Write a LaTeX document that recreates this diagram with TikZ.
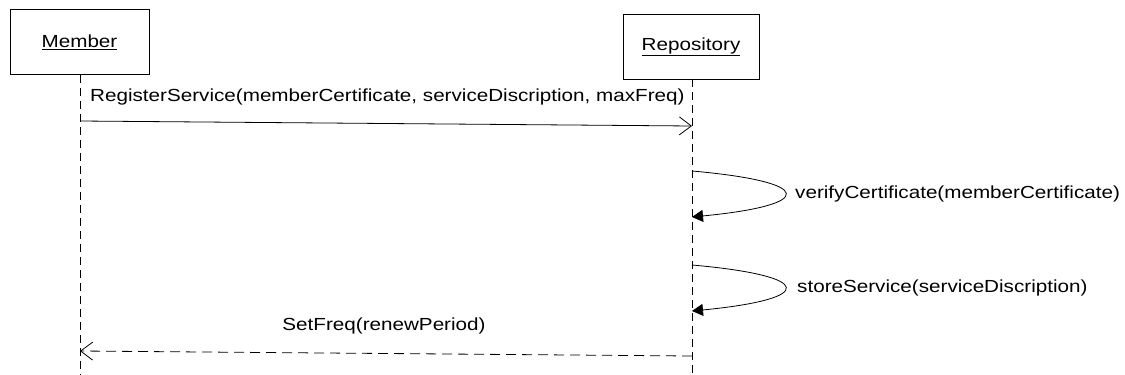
\documentclass[tikz,border=0pt]{standalone}
\usepackage{fontspec}
\setmainfont{Liberation Sans}
\usetikzlibrary{arrows.meta}
\newcommand{\wtxt}[1]{\scalebox{1.18}[1]{#1}}
\begin{document}
\begin{tikzpicture}[x=1pt,y=-1pt,
  font=\fontsize{17.5}{20}\selectfont,
  objbox/.style={draw,line width=0.8pt,inner sep=0pt},
  lifeline/.style={line width=0.8pt,dash pattern=on 8pt off 5pt},
  callmsg/.style={line width=0.8pt,-{Straight Barb[length=12pt,width=18pt,line width=0.8pt]}},
  selfmsg/.style={line width=0.8pt,-{Triangle[length=11pt,width=12pt]}},
  retmsg/.style={line width=0.8pt,dash pattern=on 10pt off 6pt,-{Straight Barb[length=12pt,width=18pt,line width=0.8pt]}},
  lbl/.style={inner sep=0pt}]
\useasboundingbox (0,0) rectangle (1125,375);
% objects
\node[objbox,minimum width=139pt,minimum height=65pt] (member) at (79.5,42) {\wtxt{\underline{Member}}};
\node[objbox,minimum width=136pt,minimum height=65pt] (repo) at (691,46.5) {\wtxt{\underline{Repository}}};
% lifelines
\coordinate (mEnd) at (80,375);
\coordinate (rEnd) at (692,375);
\draw[lifeline] (member.south -| mEnd) -- (mEnd);
\draw[lifeline] (repo.south -| rEnd) -- (rEnd);
% message anchors on the lifelines
\coordinate (m1s) at (80,121);
\coordinate (m1e) at (692,126);
\coordinate (s1a) at (692,171);
\coordinate (s1b) at (692,217);
\coordinate (s2a) at (692,265);
\coordinate (s2b) at (692,311);
\coordinate (r1s) at (692,356);
\coordinate (r1e) at (80,351);
% messages
\draw[callmsg] (m1s) -- (m1e);
\node[lbl,anchor=west] (l1) at (90,97) {\wtxt{RegisterService(memberCertificate, serviceDiscription, maxFreq)}};
\draw[selfmsg] (s1a) .. controls (816,182) and (816,205) .. (s1b);
\node[lbl,anchor=west] (l2) at (795,194) {\wtxt{verifyCertificate(memberCertificate)}};
\draw[selfmsg] (s2a) .. controls (816,276) and (816,299) .. (s2b);
\node[lbl,anchor=west] (l3) at (797,288) {\wtxt{storeService(serviceDiscription)}};
\draw[retmsg] (r1s) -- (r1e);
\node[lbl] (l4) at (384,326) {\wtxt{SetFreq(renewPeriod)}};
\end{tikzpicture}
\end{document}
